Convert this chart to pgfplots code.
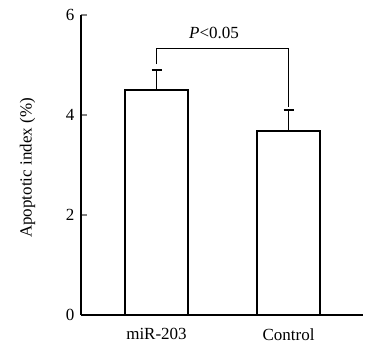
\documentclass[border=0pt]{standalone}
\usepackage{fontspec}
\setmainfont{Liberation Serif}
\usepackage{pgfplots}
\pgfplotsset{compat=1.18}
\begin{document}
\begin{tikzpicture}
\path (-81bp,-28bp) rectangle (292bp,315bp);
\begin{axis}[
  at={(0,0)}, anchor=south west,
  scale only axis, width=282bp, height=300bp,
  xmin=-0.572, xmax=1.564, ymin=0, ymax=6,
  axis x line=bottom, axis y line=left,
  axis line style={-, line width=1.9bp},
  xtick={0,1}, xticklabels={miR-203, Control},
  x tick style={draw=none},
  ytick={0,2,4,6},
  tick align=inside,
  major tick length=6bp,
  y tick style={line width=1.9bp},
  /pgf/number format/assume math mode=true,
  ticklabel style={font=\fontsize{17bp}{20bp}\selectfont},
  xticklabel style={yshift=-10bp},
  yticklabel style={xshift=-3bp},
  ylabel={Apoptotic index (\%)},
  ylabel style={font=\fontsize{17bp}{20bp}\selectfont, at={(axis description cs:-0.19,0.49)}, anchor=center},
  clip=false,
]
\addplot[ybar, bar width=63bp, draw=black, fill=white, line width=1.9bp,
  error bars/.cd, y dir=plus, y explicit,
  error bar style={line width=1.9bp},
  error mark options={line width=1.9bp, mark size=5bp, rotate=90}]
  coordinates {(0,4.5) +- (0,0.4) (1,3.68) +- (0,0.42)};
\addplot[black, line width=1.9bp, mark=none, sharp plot]
  coordinates {(0,5.02) (0,5.33) (1,5.33) (1,4.16)};
\node[font=\fontsize{17bp}{20bp}\selectfont] at (axis cs:0.436,5.64) {\textit{P}<0.05};
\end{axis}
\end{tikzpicture}
\end{document}
